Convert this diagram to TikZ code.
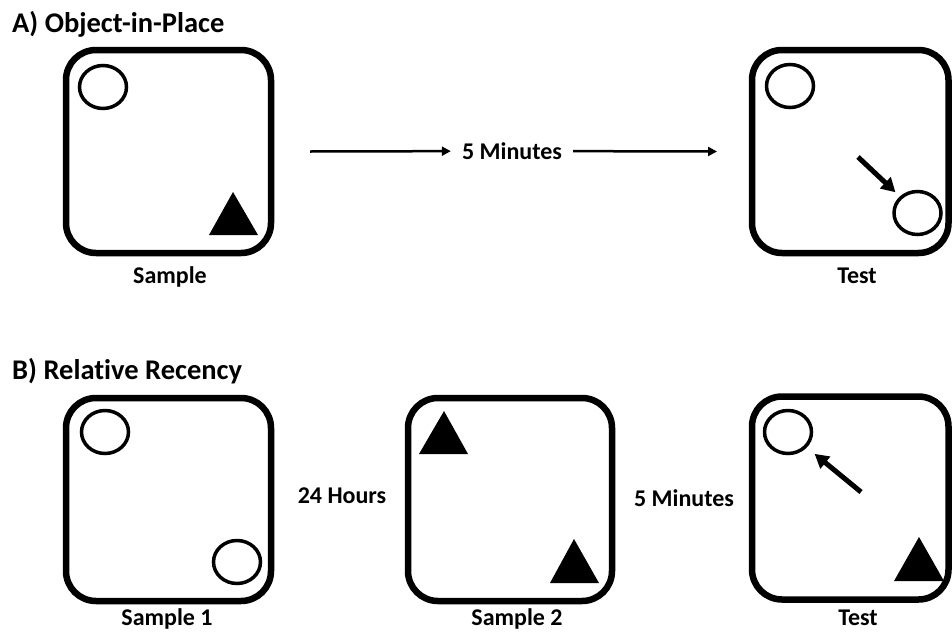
\documentclass[tikz,border=0pt]{standalone}
\usepackage{fontspec}
\setmainfont{Carlito}[Ligatures=NoCommon]
\usetikzlibrary{arrows.meta,shapes.geometric}

\begin{document}
\begin{tikzpicture}[x=1pt,y=-1pt,
    arena/.style={draw, line width=6.5pt, rounded corners=30pt, minimum height=203pt, inner sep=0pt},
    obj/.style={draw, ellipse, line width=3.5pt, minimum width=47pt, minimum height=43pt, inner sep=0pt},
    lbl/.style={font=\bfseries\fontsize{24}{28}\selectfont, anchor=base, inner sep=0pt},
    ttl/.style={font=\bfseries\fontsize{28.5}{34}\selectfont, anchor=base west, inner sep=0pt},
    gap/.style={font=\bfseries\fontsize{24}{28}\selectfont, inner xsep=11pt, inner ysep=2pt},
    delay/.style={-{Triangle[length=9pt,width=9pt]}, line width=2.5pt},
    pointer/.style={-{Triangle[length=14pt,width=15pt]}, line width=5pt}]
    \useasboundingbox (0,0) rectangle (952,632);
    \clip (0,0) rectangle (952,632);

    % A) object-in-place
    \node[ttl] (titleA) at (12,32) {A) Object-in-Place};
    \node[arena, minimum width=205pt] (sample) at (168.5,151.5) {};
    \node[arena, minimum width=196.5pt] (test) at (850.25,151.5) {};
    \node[lbl] (sampleLbl) at (170,283) {Sample};
    \node[lbl] (testLbl) at (857,283) {Test};
    \node[obj] (sCirc) at (103,87) {};
    \fill (233,192) -- (209,235) -- (258,235) -- cycle;
    \node[obj] (tCircA) at (790,86) {};
    \node[obj] (tCircB) at (917.5,213) {};
    \coordinate (tArrow) at (858,157);
    \draw[pointer, shorten >=6pt] (tArrow) -- (tCircB);
    \node[gap] (waitA) at (512,151) {5 Minutes};
    \coordinate (startA) at (310,151.5);
    \coordinate (endA) at (717,151.5);
    \draw[delay] (startA) -- (waitA);
    \draw[delay] (waitA) -- (endA);

    % B) relative recency
    \node[ttl] (titleB) at (12,379) {B) Relative Recency};
    \node[arena, minimum width=205pt] (sampleOne) at (168.5,499.5) {};
    \node[arena, minimum width=204pt] (sampleTwo) at (510,499.5) {};
    \node[arena, minimum width=196.5pt] (testB) at (850.25,498) {};
    \node[lbl] (sampleOneLbl) at (167,625) {Sample 1};
    \node[lbl] (sampleTwoLbl) at (517,625) {Sample 2};
    \node[lbl] (testBLbl) at (858,625) {Test};
    \node[gap] (waitB) at (342,496) {24 Hours};
    \node[gap] (waitC) at (684,498) {5 Minutes};
    \node[obj] (oneCircA) at (105,432) {};
    \node[obj] (oneCircB) at (237,562) {};
    \fill (444,411) -- (419,454) -- (468,454) -- cycle;
    \fill (574,539) -- (550,583) -- (599,583) -- cycle;
    \node[obj] (bCirc) at (788,432) {};
    \fill (919,537) -- (894,581) -- (944,581) -- cycle;
    \coordinate (bArrow) at (861,492);
    \draw[pointer, shorten >=10pt] (bArrow) -- (bCirc);
\end{tikzpicture}
\end{document}
